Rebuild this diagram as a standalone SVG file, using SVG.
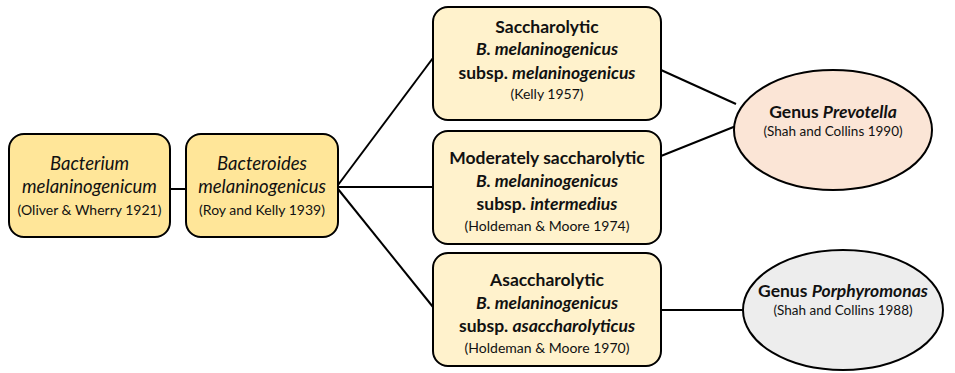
<svg xmlns="http://www.w3.org/2000/svg" width="955" height="373" viewBox="0 0 955 373">
<style>
text{font-family:Lato,"Liberation Sans",sans-serif;text-anchor:middle;fill:#111}
.box{stroke:#000;stroke-width:2}
.gold{fill:#FFE699}
.pale{fill:#FFF2CC}
.t{font-size:18.5px;font-style:italic}
.c{font-size:14px}
.b{font-size:17.5px;font-weight:bold}
.bi{font-size:17.5px;font-weight:bold;font-style:italic}
.s{font-size:14px}
.e{font-size:13.5px}
.conn line{stroke:#000;stroke-width:2}
</style>
<rect width="955" height="373" fill="#fff"/>
<g class="conn">
<line x1="170" y1="189" x2="186" y2="189"/>
<line x1="338" y1="185" x2="433" y2="58"/>
<line x1="338" y1="187" x2="433" y2="187"/>
<line x1="338" y1="189" x2="433" y2="307"/>
<line x1="661" y1="70" x2="736" y2="104"/>
<line x1="661" y1="156" x2="736" y2="126"/>
<line x1="661" y1="310" x2="744" y2="310"/>
</g>
<g id="n1">
<rect class="box gold" x="9" y="134" width="161" height="103" rx="15"/>
<text class="t" x="89.5" y="170">Bacterium</text>
<text class="t" x="89.5" y="193">melaninogenicum</text>
<text class="c" x="89.5" y="215">(Oliver &amp; Wherry 1921)</text>
</g>
<g id="n2">
<rect class="box gold" x="186" y="134" width="152" height="103" rx="15"/>
<text class="t" x="262" y="170">Bacteroides</text>
<text class="t" x="262" y="193">melaninogenicus</text>
<text class="c" x="262" y="215">(Roy and Kelly 1939)</text>
</g>
<g id="n3">
<rect class="box pale" x="433" y="7" width="228" height="113" rx="15"/>
<text class="b" x="547" y="33">Saccharolytic</text>
<text class="bi" x="547" y="55">B. melaninogenicus</text>
<text class="b" x="547" y="79">subsp. <tspan font-style="italic">melaninogenicus</tspan></text>
<text class="s" x="547" y="99">(Kelly 1957)</text>
</g>
<g id="n4">
<rect class="box pale" x="433" y="131" width="228" height="113" rx="15"/>
<text class="b" x="547" y="164">Moderately saccharolytic</text>
<text class="bi" x="547" y="187">B. melaninogenicus</text>
<text class="b" x="547" y="210">subsp. <tspan font-style="italic">intermedius</tspan></text>
<text class="s" x="547" y="231">(Holdeman &amp; Moore 1974)</text>
</g>
<g id="n5">
<rect class="box pale" x="433" y="253" width="228" height="113" rx="15"/>
<text class="b" x="547" y="286">Asaccharolytic</text>
<text class="bi" x="547" y="309">B. melaninogenicus</text>
<text class="b" x="547" y="332">subsp. <tspan font-style="italic">asaccharolyticus</tspan></text>
<text class="s" x="547" y="353">(Holdeman &amp; Moore 1970)</text>
</g>
<g id="n6">
<ellipse class="box" fill="#FBE5D6" cx="833" cy="130" rx="99" ry="60"/>
<text class="b" x="833" y="118">Genus <tspan font-style="italic">Prevotella</tspan></text>
<text class="e" x="833" y="136">(Shah and Collins 1990)</text>
</g>
<g id="n7">
<ellipse class="box" fill="#EDEDED" cx="843" cy="310" rx="100" ry="60"/>
<text class="b" x="843" y="297">Genus <tspan font-style="italic">Porphyromonas</tspan></text>
<text class="e" x="843" y="315">(Shah and Collins 1988)</text>
</g>
</svg>
